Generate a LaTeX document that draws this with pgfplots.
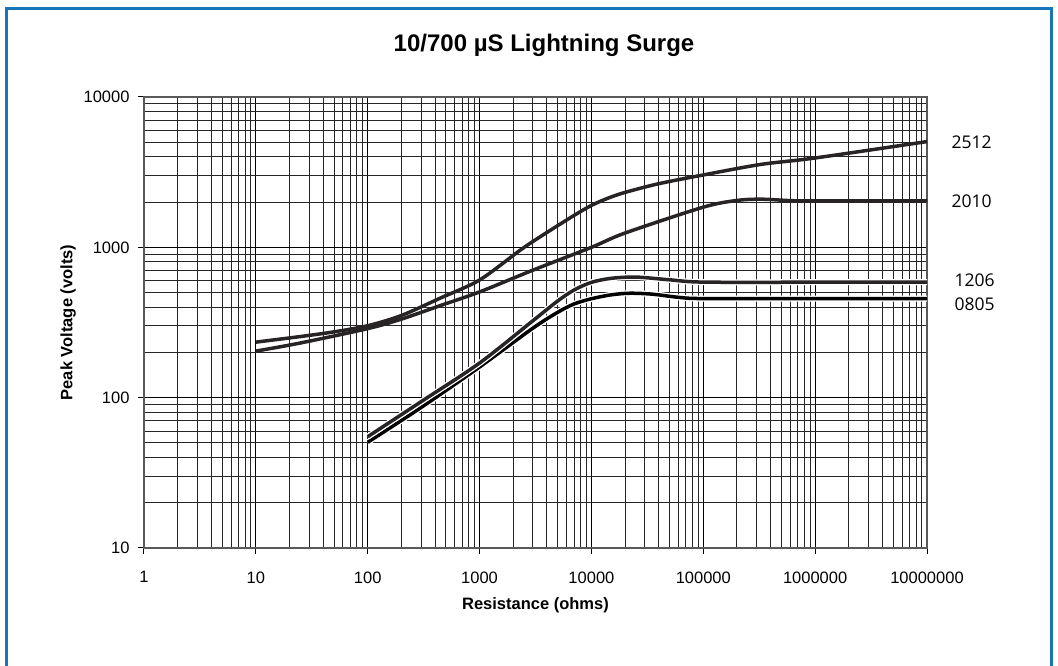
\documentclass[border=0pt]{standalone}
\usepackage{pgfplots}
\pgfplotsset{compat=1.18}
\usepackage{fontspec}
\setmainfont{Liberation Sans}
\newfontfamily\labelfont{Open Sans}
\definecolor{framecol}{RGB}{23,118,186}
\definecolor{curvecol}{RGB}{40,36,37}

\begin{document}
\begin{tikzpicture}
% 1 px of the reference = 1 pt here
\path[use as bounding box] (-144pt,-118pt) rectangle (914pt,548pt);
\draw[framecol, line width=3pt] (-137pt,-140pt) -- (-137pt,539pt) -- (907pt,539pt) -- (907pt,-140pt);
\node[font=\fontsize{24}{28}\selectfont\bfseries] at (400pt,503pt) {10/700 µS Lightning Surge};

\begin{axis}[
    at={(0pt,0pt)}, anchor=south west,
    scale only axis, width=783pt, height=451pt,
    xmode=log, ymode=log,
    xmin=1, xmax=1e7, ymin=10, ymax=10000,
    xtick={1,10,100,1000,10000,100000,1000000,10000000},
    xticklabels={1,10,100,1000,10000,100000,1000000,10000000},
    ytick={10,100,1000,10000},
    yticklabels={10,100,1000,10000},
    xtick pos=left, ytick pos=left,
    grid=both,
    major grid style={black, line width=1pt},
    minor grid style={black!85, line width=1pt},
    axis line style={black!65, line width=1.5pt},
    tick align=outside, major tick length=6pt, minor tick length=0pt,
    tick style={black, line width=1pt},
    ticklabel style={font=\fontsize{16.5}{19}\selectfont},
    xticklabel style={yshift=-14pt},
    yticklabel style={xshift=-5pt},
    xlabel={Resistance (ohms)},
    ylabel={Peak Voltage (volts)},
    label style={font=\fontsize{16.5}{20}\selectfont\bfseries},
    xlabel style={at={(axis description cs:0.5,-0.126)}, anchor=center},
    ylabel style={at={(axis description cs:-0.097,0.5)}, anchor=center},
    clip=false,
]
% 0805
\addplot[white, line width=6pt, smooth, forget plot] coordinates {
 (100,50.5) (300,86) (1000,160) (3000,290) (5000,370) (7000,420) (10000,455)
 (15000,483) (22000,495) (35000,488) (60000,465) (100000,456) (1000000,455) (10000000,455)};
\addplot[black, line width=3.5pt, smooth] coordinates {
 (100,50.5) (300,86) (1000,160) (3000,290) (5000,370) (7000,420) (10000,455)
 (15000,483) (22000,495) (35000,488) (60000,465) (100000,456) (1000000,455) (10000000,455)};
% 1206
\addplot[white, line width=6pt, smooth, forget plot] coordinates {
 (100,55) (300,94) (1000,170) (3000,325) (5000,440) (7000,520) (10000,585)
 (15000,622) (25000,634) (50000,608) (100000,587) (1000000,586) (10000000,586)};
\addplot[curvecol, line width=3.5pt, smooth] coordinates {
 (100,55) (300,94) (1000,170) (3000,325) (5000,440) (7000,520) (10000,585)
 (15000,622) (25000,634) (50000,608) (100000,587) (1000000,586) (10000000,586)};
% 2010
\addplot[curvecol, line width=3.5pt, smooth] coordinates {
 (10,204) (25,231) (100,288) (200,333) (447,410) (1000,505) (3000,705) (10000,1000)
 (20000,1245) (100000,1850) (200000,2050) (330000,2090) (600000,2045)
 (1000000,2035) (10000000,2035)};
% 2512
\addplot[curvecol, line width=3.5pt, smooth] coordinates {
 (10,234) (25,255) (50,274) (100,301) (200,352) (447,460) (1000,606)
 (2320,960) (3510,1180) (6900,1620) (10000,1900) (14000,2120) (20000,2320)
 (40000,2650) (100000,3030) (327000,3560) (1000000,3930) (10000000,5050)};

\node[anchor=west, font=\labelfont\fontsize{17.5}{20}\selectfont] at (axis cs:1e7,5000) [xshift=21pt] {2512};
\node[anchor=west, font=\labelfont\fontsize{17.5}{20}\selectfont] at (axis cs:1e7,2030) [xshift=21pt] {2010};
\node[anchor=west, font=\labelfont\fontsize{17.5}{20}\selectfont] at (axis cs:1e7,600) [xshift=24pt] {1206};
\node[anchor=west, font=\labelfont\fontsize{17.5}{20}\selectfont] at (axis cs:1e7,420) [xshift=24pt] {0805};
\end{axis}
\end{tikzpicture}
\end{document}
